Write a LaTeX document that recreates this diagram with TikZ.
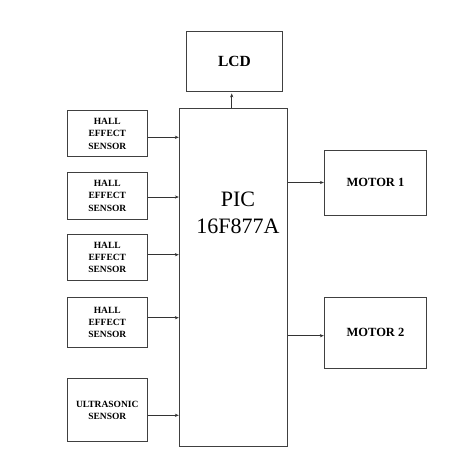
\documentclass[tikz,border=0pt]{standalone}
\usepackage{fontspec}
\setmainfont{Liberation Serif}
\usetikzlibrary{arrows.meta}
\begin{document}
\begin{tikzpicture}
  [x=1pt,y=-1pt,
   blk/.style={draw=black!75,line width=0.9pt,inner sep=0pt,align=center},
   sensor/.style={blk,minimum width=80pt,font=\bfseries\fontsize{9.5}{12.3}\selectfont},
   motor/.style={blk,minimum width=102.4pt,font=\bfseries\fontsize{12.5}{15}\selectfont},
   wire/.style={draw=black!80,line width=0.7pt,-{Stealth[length=4pt,width=3.2pt]}}]
  \useasboundingbox (0,0) rectangle (466,472);
  \node [blk,minimum width=95.6pt,minimum height=59.3pt,
         font=\bfseries\fontsize{15.5}{18}\selectfont]
    (lcd) at (234.5,61.3) {LCD};
  \node [blk,minimum width=108.4pt,minimum height=337.7pt]
    (pic) at (233.5,277.2) {};
  \node [font=\fontsize{22}{27}\selectfont,align=center]
    (pictext) at (238,213) {PIC\\16F877A};

  \node [sensor,minimum height=46pt] (h1) at (107.3,133.7) {HALL\\EFFECT\\SENSOR};
  \node [sensor,minimum height=47pt] (h2) at (107.3,195.8) {HALL\\EFFECT\\SENSOR};
  \node [sensor,minimum height=45.3pt] (h3) at (107.3,257.3) {HALL\\EFFECT\\SENSOR};
  \node [sensor,minimum height=50pt] (h4) at (107.3,322.3) {HALL\\EFFECT\\SENSOR};
  \node [sensor,minimum height=63pt] (us) at (107.3,410.2) {ULTRASONIC\\SENSOR};

  \node [motor,minimum height=65pt] (m1) at (375.5,182.5) {MOTOR 1};
  \node [motor,minimum height=71.3pt] (m2) at (375.5,332.7) {MOTOR 2};

  \draw [wire]
    ([xshift=-1.8pt]pic.north) coordinate (up)
    -- ([yshift=-2pt]up |- lcd.south)
  ;
  \foreach \s/\d in {h1/-3.6,h2/-1.2,h3/2.6,h4/4.6,us/-5.1}
    \draw [wire]
      ([yshift=\d pt]\s.east) coordinate (tail)
      -- (tail -| pic.west)
    ;
  \foreach \m/\d in {m1/0,m2/-3}
    \draw [wire]
      ([yshift=\d pt]\m.west) coordinate (head)
      (head -| pic.east)
      -- (head)
    ;
\end{tikzpicture}
\end{document}
